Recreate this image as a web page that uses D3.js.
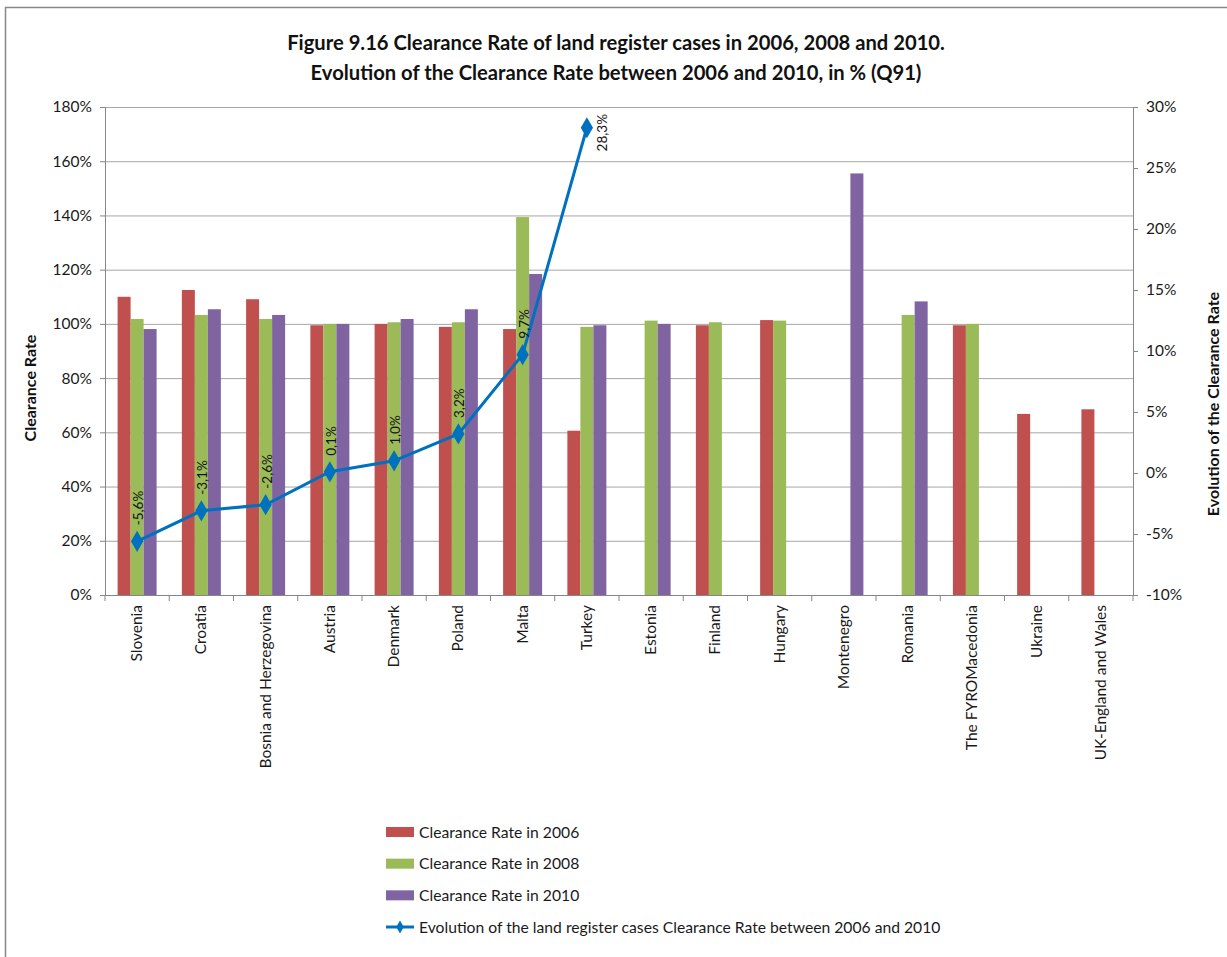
<!DOCTYPE html>
<html><head><meta charset="utf-8">
<script src="https://cdn.jsdelivr.net/npm/d3@7"></script>
<style>body{margin:0;background:#fff;} text{font-family:Lato,"Open Sans",sans-serif;}</style>
</head><body>
<svg id="c" width="1227" height="957"></svg>
<script>
const categories = ["Slovenia","Croatia","Bosnia and Herzegovina","Austria","Denmark","Poland","Malta","Turkey","Estonia","Finland","Hungary","Montenegro","Romania","The FYROMacedonia","Ukraine","UK-England and Wales"];
const cr2006 = [110.0,112.5,109.1,99.5,100.0,98.9,98.1,60.6,null,99.5,101.4,null,null,99.5,66.8,68.5];
const cr2008 = [101.8,103.3,101.8,100.0,100.6,100.6,139.4,98.9,101.2,100.6,101.2,null,103.3,100.0,null,null];
const cr2010 = [98.1,105.4,103.3,100.0,101.8,105.4,118.4,99.5,100.0,null,null,155.5,108.3,null,null,null];
const evolution = [-5.6,-3.1,-2.6,0.1,1.0,3.2,9.7,28.3,null,null,null,null,null,null,null,null];
const leftTicks = [0,20,40,60,80,100,120,140,160,180];
const rightTicks = [-10,-5,0,5,10,15,20,25,30];
const seriesNames = ["Clearance Rate in 2006","Clearance Rate in 2008","Clearance Rate in 2010"];
const lineName = "Evolution of the land register cases Clearance Rate between 2006 and 2010";
const colors = ["#C0504D","#9BBB59","#8064A2"];
const lineColor = "#0070C0";

const svg = d3.select("#c");
svg.append("rect").attr("x",5.5).attr("y",7.5).attr("width",1300).attr("height",1000)
  .attr("fill","none").attr("stroke","#888").attr("stroke-width",1.5);

const L=105, R=1133, T=107, B=595;
const x = d3.scaleBand().domain(categories).range([L,R]).paddingInner(0.393).paddingOuter(0.196);
const x1 = d3.scaleBand().domain([0,1,2]).range([0,x.bandwidth()]);
const y = d3.scaleLinear().domain([0,180]).range([B,T]);
const y2 = d3.scaleLinear().domain([-10,30]).range([B,T]);

svg.append("g").selectAll("line").data(leftTicks.slice(1)).join("line")
  .attr("x1",L).attr("x2",R).attr("y1",d=>y(d)+0.5).attr("y2",d=>y(d)+0.5)
  .attr("stroke","#A6A6A6").attr("stroke-width",1);

const series=[cr2006,cr2008,cr2010];
series.forEach((s,i)=>{
  svg.append("g").selectAll("rect").data(categories.map((c,j)=>({c,v:s[j]})).filter(d=>d.v!=null)).join("rect")
    .attr("x",d=>x(d.c)+x1(i)).attr("width",x1.bandwidth())
    .attr("y",d=>y(d.v)).attr("height",d=>B-y(d.v)).attr("fill",colors[i]);
});

const axL = svg.append("g").attr("transform",`translate(${L},0)`)
  .call(d3.axisLeft(y).tickValues(leftTicks).tickFormat(d=>d+"%").tickSize(5).tickPadding(8));
const axR = svg.append("g").attr("transform",`translate(${R},0)`)
  .call(d3.axisRight(y2).tickValues(rightTicks).tickFormat(d=>d+"%").tickSize(5).tickPadding(8));
const axB = svg.append("g").attr("transform",`translate(0,${B})`)
  .call(d3.axisBottom(x).tickSize(0).tickFormat(""));
[axL,axR,axB].forEach(a=>{a.select(".domain").attr("stroke","#868686");a.selectAll(".tick line").attr("stroke","#868686");
  a.selectAll("text").attr("font-size",15.5).attr("fill","#1a1a1a").attr("font-family","Lato");});
const bounds = categories.map(c=>x(c)-x.step()*x.paddingInner()/2).concat([R]);
svg.append("g").selectAll("line").data(bounds).join("line")
  .attr("x1",d=>d).attr("x2",d=>d).attr("y1",B).attr("y2",B+6).attr("stroke","#868686");
svg.append("g").selectAll("text").data(categories).join("text")
  .attr("transform",d=>`translate(${x(d)+x.bandwidth()/2+5},605) rotate(-90)`)
  .attr("text-anchor","end").attr("font-size",15.5).attr("fill","#1a1a1a").text(d=>d);

const pts = categories.map((c,j)=>({c,v:evolution[j]})).filter(d=>d.v!=null);
const cx = d=>x(d.c)+x.bandwidth()/2;
svg.append("path").datum(pts).attr("fill","none").attr("stroke",lineColor).attr("stroke-width",3)
  .attr("d",d3.line().x(cx).y(d=>y2(d.v)));
svg.append("g").selectAll("path").data(pts).join("path")
  .attr("d",d3.symbol(d3.symbolDiamond,130))
  .attr("transform",d=>`translate(${cx(d)},${y2(d.v)})`)
  .attr("fill",lineColor);
const fmt = v=>v.toFixed(1).replace(".",",")+"%";
svg.append("g").selectAll("text").data(pts).join("text")
  .attr("transform",(d,i)=> i===pts.length-1
     ? `translate(${cx(d)+20},${y2(d.v)+5}) rotate(-90)`
     : `translate(${cx(d)+6},${y2(d.v)-16}) rotate(-90)`)
  .attr("text-anchor",(d,i)=>i===pts.length-1?"middle":"start")
  .attr("font-size",13.5).attr("fill","#111").text(d=>fmt(d.v));

svg.append("text").attr("transform","translate(36,388) rotate(-90)").attr("text-anchor","middle")
  .attr("font-size",16).attr("font-weight","bold").attr("fill","#111").text("Clearance Rate");
svg.append("text").attr("transform","translate(1219,404) rotate(-90)").attr("text-anchor","middle")
  .attr("font-size",16).attr("font-weight","bold").attr("fill","#111").text("Evolution of the Clearance Rate");

svg.append("text").attr("x",616).attr("y",50).attr("text-anchor","middle").attr("font-size",20.2).attr("font-weight","bold").attr("fill","#111")
  .text("Figure 9.16 Clearance Rate of land register cases in 2006, 2008 and 2010.");
svg.append("text").attr("x",616).attr("y",80).attr("text-anchor","middle").attr("font-size",20.2).attr("font-weight","bold").attr("fill","#111")
  .text("Evolution of the Clearance Rate between 2006 and 2010, in % (Q91)");

const lg = svg.append("g");
const ly = d3.scaleLinear().domain([0,3]).range([832,927]);
lg.selectAll("rect").data([0,1,2]).join("rect").attr("x",386).attr("y",d=>ly(d)-5).attr("width",28).attr("height",10).attr("fill",d=>colors[d]);
lg.append("line").attr("x1",386).attr("x2",414).attr("y1",ly(3)).attr("y2",ly(3)).attr("stroke",lineColor).attr("stroke-width",3);
lg.append("path").attr("d",d3.symbol(d3.symbolDiamond,50)).attr("transform",`translate(400,${ly(3)})`).attr("fill",lineColor);
lg.selectAll("text").data(seriesNames.concat([lineName])).join("text")
  .attr("x",419).attr("y",(d,i)=>ly(i)+5.5).attr("font-size",15.7).attr("fill","#1a1a1a").text(d=>d);
</script>
</body></html>
